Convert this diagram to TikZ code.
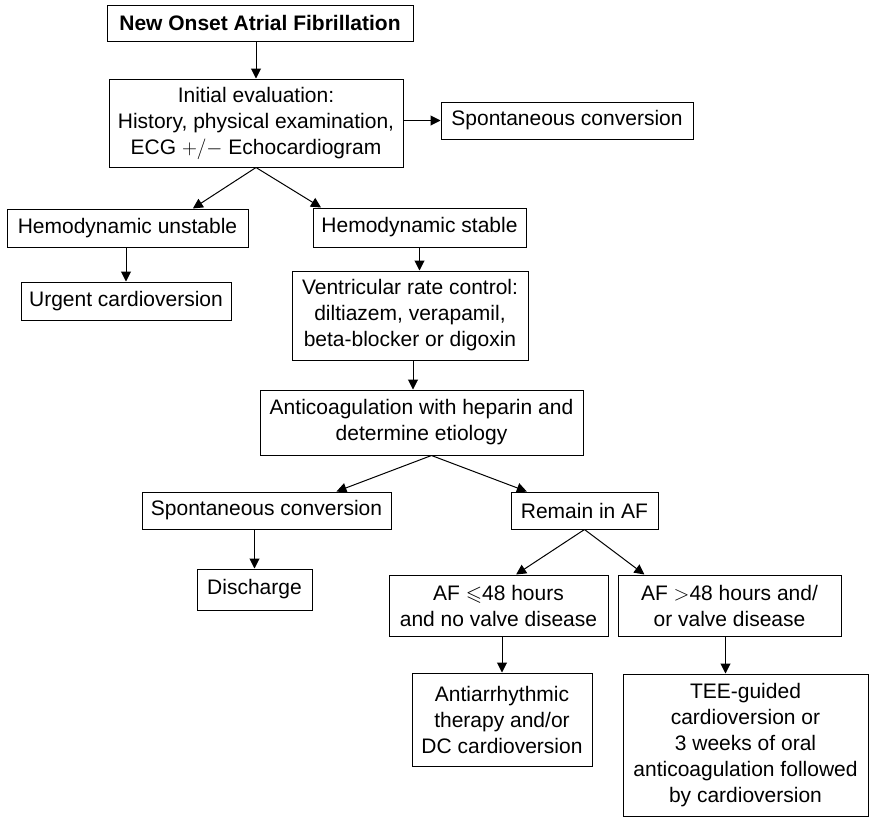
\documentclass[tikz,border=0pt]{standalone}
\usepackage{amssymb}
\usepackage{fontspec}
\setmainfont{Liberation Sans}
\usetikzlibrary{arrows.meta,calc}
\begin{document}
\begin{tikzpicture}[x=1pt,y=-1pt,line width=1pt,>={Triangle[length=10pt,width=10pt]},
  every node/.style={draw,align=center,inner sep=0pt,font=\fontsize{21}{26}\selectfont}]
\useasboundingbox (0,0) rectangle (871,817);
% boxes, top to bottom
\node[minimum width=306,minimum height=36] (onset) at (260,23) {\bfseries New Onset Atrial Fibrillation};
\node[minimum width=294,minimum height=88] (init) at (256,123) {Initial evaluation:\\History, physical examination,\\ECG $+/-$ Echocardiogram};
\node[minimum width=252,minimum height=37] (spont) at (567,120.5) {Spontaneous conversion};
\node[minimum width=241,minimum height=38] (unstable) at (127.5,228) {Hemodynamic unstable};
\node[minimum width=213,minimum height=39] (stable) at (419.5,227.5) {Hemodynamic stable};
\node[minimum width=210,minimum height=38] (urgent) at (126,301) {Urgent cardioversion};
\node[minimum width=236,minimum height=89] (rate) at (410,315.5) {Ventricular rate control:\\diltiazem, verapamil,\\beta-blocker or digoxin};
\node[minimum width=323,minimum height=65] (anticoag) at (421.5,422.5) {Anticoagulation with heparin and\\determine etiology};
\node[minimum width=249,minimum height=37] (spontb) at (266.5,510.5) {Spontaneous conversion};
\node[minimum width=147,minimum height=37] (remain) at (584.5,510.5) {Remain in AF};
\node[minimum width=115,minimum height=41] (discharge) at (254.5,589.5) {Discharge};
\node[minimum width=219,minimum height=61] (afle) at (498.5,605.5) {AF $\leqslant$48 hours\\and no valve disease};
\node[minimum width=223,minimum height=61] (afgt) at (729.5,605.5) {AF $>$48 hours and/\\or valve disease};
\node[minimum width=180,minimum height=93] (antiarr) at (502,719.5) {Antiarrhythmic\\therapy and/or\\DC cardioversion};
\node[minimum width=245,minimum height=142] (tee) at (745.5,745) {TEE-guided\\cardioversion or\\3 weeks of oral\\anticoagulation followed\\by cardioversion};
% arrows
\draw[->] (onset.south -| init.north) -- (init.north);
\draw[->] (init.east |- spont.west) -- (spont.west);
\draw[->] (init.south) -- ($(unstable.north west)!0.77!(unstable.north east)$);
\draw[->] (init.south) -- ($(stable.north west)!0.04!(stable.north east)$);
\draw[->] (unstable.south -| urgent.north) -- (urgent.north);
\draw[->] (stable.south) -- (stable.south |- rate.north);
\draw[->] ([xshift=3pt]rate.south) -- ([xshift=3pt]rate.south |- anticoag.north);
\draw[->] ([xshift=10pt]anticoag.south) -- ($(spontb.north west)!0.78!(spontb.north east)$);
\draw[->] ([xshift=10pt]anticoag.south) -- ($(remain.north west)!0.11!(remain.north east)$);
\draw[->] (spontb.south -| discharge.north) -- (discharge.north);
\draw[->] (remain.south) -- ($(afle.north west)!0.58!(afle.north east)$);
\draw[->] (remain.south) -- ($(afgt.north west)!0.12!(afgt.north east)$);
\draw[->] (afle.south -| antiarr.north) -- (antiarr.north);
\draw[->] ([xshift=-4pt]afgt.south) -- ([xshift=-4pt]afgt.south |- tee.north);
\end{tikzpicture}
\end{document}
